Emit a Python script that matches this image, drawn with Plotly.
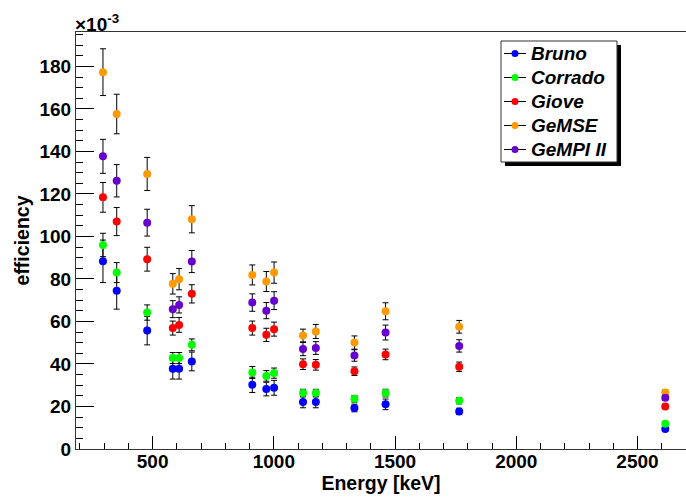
import plotly.graph_objects as go

# Gamma line energies [keV]
energy = [295.2, 351.9, 477.6, 583.2, 609.3, 661.7, 911.2, 969.0, 1001.0,
          1120.3, 1173.2, 1332.5, 1460.8, 1764.5, 2614.5]

# Full-energy peak efficiencies (units of 1e-3) and their uncertainties
bruno = [88.3, 74.5, 55.7, 37.7, 37.7, 41.2, 30.2, 28.2, 28.8, 22.1, 22.1, 19.3, 21.0, 17.7, 9.4]
bruno_err = [10.0, 8.7, 6.7, 4.8, 4.8, 4.4, 3.6, 3.2, 3.5, 2.7, 2.7, 1.8, 2.5, 1.5, 0.8]

corrado = [96.0, 83.0, 64.2, 42.8, 42.8, 49.0, 36.0, 34.4, 35.7, 26.3, 26.3, 23.6, 26.3, 22.7, 11.9]
corrado_err = [5.5, 4.7, 3.6, 2.6, 2.6, 2.8, 2.8, 2.5, 2.4, 1.8, 1.8, 1.6, 1.8, 1.5, 0.7]

giove = [118.4, 107.0, 89.3, 56.9, 58.4, 73.0, 56.9, 53.7, 56.4, 39.9, 39.6, 36.6, 44.5, 38.7, 20.0]
giove_err = [7.0, 6.6, 5.6, 3.3, 3.5, 4.3, 3.3, 3.1, 3.3, 2.5, 2.5, 2.0, 2.5, 2.2, 1.0]

gemse = [177.3, 157.6, 129.4, 77.7, 79.9, 108.1, 81.9, 78.8, 83.0, 53.4, 55.3, 50.1, 64.8, 57.5, 26.6]
gemse_err = [11.0, 9.3, 7.8, 4.8, 5.0, 6.4, 4.7, 4.7, 5.0, 3.0, 3.3, 3.1, 4.0, 3.0, 1.2]

gempi = [137.7, 126.2, 106.5, 65.8, 67.8, 88.2, 68.9, 65.1, 69.8, 47.0, 47.5, 44.0, 54.8, 48.5, 24.1]
gempi_err = [8.0, 7.6, 6.3, 4.0, 3.8, 5.2, 4.1, 3.8, 4.2, 3.1, 3.0, 2.7, 3.5, 2.9, 1.1]

names = ["Bruno", "Corrado", "Giove", "GeMSE", "GeMPI II"]
series = [bruno, corrado, giove, gemse, gempi]
errors = [bruno_err, corrado_err, giove_err, gemse_err, gempi_err]
colors = ["#0000ff", "#00ff00", "#ff0000", "#ff9900", "#6600cc"]

FONT = "Liberation Sans"

fig = go.Figure()

for name, vals, errs, col in zip(names, series, errors, colors):
    fig.add_trace(go.Scatter(
        x=energy, y=vals, mode="markers", name=name, showlegend=False,
        marker=dict(color=col, size=8, line=dict(width=0)),
        error_y=dict(type="data", array=errs, color="black", thickness=1, width=3),
    ))

W, H = 686, 497
ml, mr, mt, mb = 76, 0, 32, 48
pw, ph = W - ml - mr, H - mt - mb


def px_x(p):
    return (p - ml) / pw


def px_y(p):
    return (H - mb - p) / ph


# ---- legend box (drawn by hand: black drop shadow, white framed box) ----
box_l, box_r, box_t, box_b = 501, 617, 41, 162
shadow = 4
fig.add_shape(type="rect", xref="paper", yref="paper",
              x0=px_x(box_l + shadow), x1=px_x(box_r + shadow),
              y0=px_y(box_b + shadow), y1=px_y(box_t + shadow),
              fillcolor="black", line=dict(width=0))
fig.add_shape(type="rect", xref="paper", yref="paper",
              x0=px_x(box_l), x1=px_x(box_r), y0=px_y(box_b), y1=px_y(box_t),
              fillcolor="white", line=dict(color="#333333", width=1))

row0, row_step = 53.5, 24
sym_l, sym_r, sym_c, dot_r = 504, 526, 515, 3.5
for i, (name, col) in enumerate(zip(names, colors)):
    yc = row0 + i * row_step
    fig.add_shape(type="line", xref="paper", yref="paper",
                  x0=px_x(sym_l), x1=px_x(sym_r), y0=px_y(yc), y1=px_y(yc),
                  line=dict(color="black", width=1))
    fig.add_shape(type="circle", xref="paper", yref="paper",
                  x0=px_x(sym_c - dot_r), x1=px_x(sym_c + dot_r),
                  y0=px_y(yc + dot_r), y1=px_y(yc - dot_r),
                  fillcolor=col, line=dict(width=0))
    fig.add_annotation(text=name, xref="paper", yref="paper",
                       x=px_x(529), y=px_y(yc), xanchor="left", yanchor="middle",
                       showarrow=False,
                       font=dict(family=FONT, size=19, weight="bold", style="italic",
                                 color="black"))

fig.add_annotation(text="×10<sup>-3</sup>", xref="paper", yref="paper",
                   x=0, y=1.0, xanchor="left", yanchor="bottom", showarrow=False,
                   xshift=-3, yshift=-5,
                   font=dict(family=FONT, size=19, color="black", weight="bold"))

fig.update_layout(
    width=W, height=H,
    margin=dict(l=ml, r=mr, t=mt, b=mb, pad=0),
    paper_bgcolor="white", plot_bgcolor="white",
    font=dict(family=FONT, color="black"),
    showlegend=False,
    xaxis=dict(
        range=[184, 2700], showgrid=False, zeroline=False,
        showline=True, linecolor="#333333", linewidth=1, mirror=True,
        ticks="inside", ticklen=13, tickcolor="black", dtick=500, tick0=0,
        ticklabelstandoff=-5,
        tickfont=dict(family=FONT, size=19, weight="bold", color="black"),
        minor=dict(ticks="inside", ticklen=6, dtick=100, tick0=0, tickcolor="black", showgrid=False),
        title=dict(text="Energy [keV]", standoff=0,
                   font=dict(family=FONT, size=19.5, weight="bold", color="black")),
    ),
    yaxis=dict(
        range=[0, 196.2], showgrid=False, zeroline=False,
        showline=True, linecolor="#333333", linewidth=1,
        ticks="inside", ticklen=18, tickcolor="black", dtick=20, tick0=0,
        tickfont=dict(family=FONT, size=19, weight="bold", color="black"),
        minor=dict(ticks="inside", ticklen=7, dtick=5, tick0=0, tickcolor="black", showgrid=False),
        title=dict(text="efficiency", standoff=4,
                   font=dict(family=FONT, size=19.5, weight="bold", color="black")),
    ),
)

fig.write_html("out.html")
